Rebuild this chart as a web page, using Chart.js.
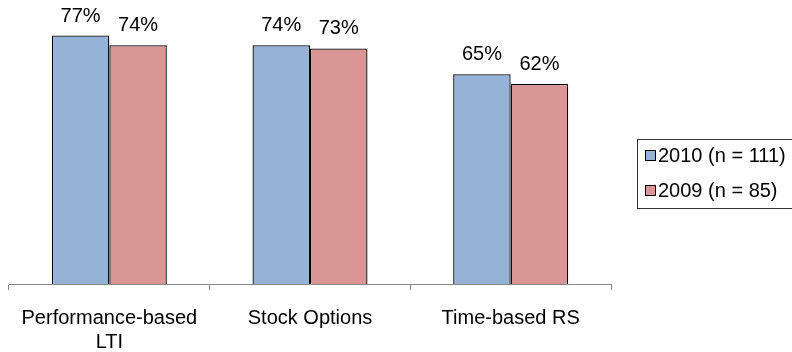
<!DOCTYPE html>
<html>
<head>
<meta charset="utf-8">
<script src="https://cdn.jsdelivr.net/npm/chart.js@4/dist/chart.umd.min.js"></script>
<style>
html,body{margin:0;padding:0;background:#fff;}
#wrap{width:792px;height:352px;}
</style>
</head>
<body>
<div id="wrap"><canvas id="mychart"></canvas></div>
<script>
const categories = [['Performance-based','LTI'], 'Stock Options', 'Time-based RS'];
const values2010 = [77, 74, 65];
const values2009 = [74, 73, 62];
const seriesNames = ['2010 (n = 111)', '2009 (n = 85)'];
const seriesColors = ['#95B3D7', '#D99694'];

const FONT = '"Liberation Sans", Arial, sans-serif';
const FONT_SIZE = 20;

// percent labels above each bar
const valueLabels = {
    id: 'valueLabels',
    afterDatasetsDraw(chart){
        const ctx = chart.ctx;
        ctx.save();
        ctx.font = FONT_SIZE + 'px ' + FONT;
        ctx.fillStyle = '#000';
        ctx.textAlign = 'center';
        ctx.textBaseline = 'alphabetic';
        chart.data.datasets.forEach((ds, i) => {
            chart.getDatasetMeta(i).data.forEach((bar, j) => {
                ctx.fillText(ds.data[j] + '%', bar.x, bar.y - 14);
            });
        });
        ctx.restore();
    }
};

// boxed legend on the right, partly cut by the canvas edge
const boxLegend = {
    id: 'boxLegend',
    afterDraw(chart){
        const ctx = chart.ctx;
        const area = chart.chartArea;
        const left = area.right + 26;
        const top = chart.height / 2 - 37;
        ctx.save();
        ctx.strokeStyle = '#333';
        ctx.lineWidth = 1;
        ctx.strokeRect(left + 0.5, top + 0.5, 200, 69);
        ctx.font = FONT_SIZE + 'px ' + FONT;
        ctx.textBaseline = 'middle';
        chart.data.datasets.forEach((ds, i) => {
            const cy = top + 16 + i * 35;
            ctx.fillStyle = ds.backgroundColor;
            ctx.fillRect(left + 8, cy - 5, 10, 10);
            ctx.strokeStyle = '#000';
            ctx.strokeRect(left + 8.5, cy - 4.5, 10, 10);
            ctx.fillStyle = '#000';
            ctx.fillText(ds.label, left + 21, cy + 1);
        });
        ctx.restore();
    }
};

const data = {
    labels: categories,
    datasets: [{
        label: seriesNames[0],
        data: values2010,
        backgroundColor: seriesColors[0],
        borderColor: '#000',
        borderWidth: 1.3
    }, {
        label: seriesNames[1],
        data: values2009,
        backgroundColor: seriesColors[1],
        borderColor: '#000',
        borderWidth: 1.3
    }]
};

const config = {
    type: 'bar',
    data: data,
    plugins: [valueLabels, boxLegend],
    options: {
        responsive: true,
        maintainAspectRatio: false,
        animation: false,
        categoryPercentage: 0.573,
        barPercentage: 1,
        layout: { padding: { left: 9, right: 181, top: 0, bottom: 0 } },
        plugins: {
            legend: { display: false },
            tooltip: { enabled: false }
        },
        scales: {
            y: { display: false, min: 0, max: 88 },
            x: {
                afterFit(scale){ scale.height = 68; },
                border: { color: '#888', width: 1 },
                grid: { offset: true, drawOnChartArea: false, tickLength: 6, color: '#888' },
                ticks: {
                    color: '#000',
                    padding: 16,
                    maxRotation: 0,
                    font: { family: FONT, size: FONT_SIZE, lineHeight: 1.2 }
                }
            }
        }
    }
};

const myChart = new Chart(document.querySelector('#mychart'), config);
</script>
</body>
</html>
